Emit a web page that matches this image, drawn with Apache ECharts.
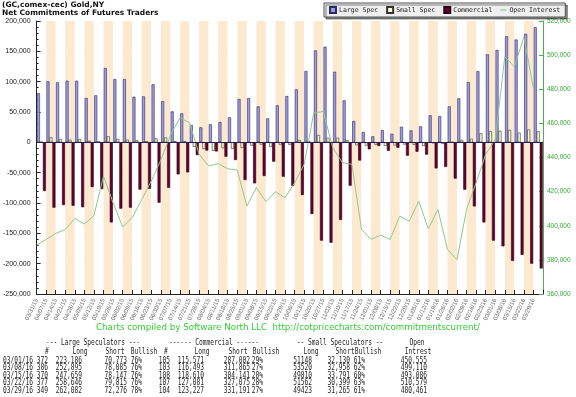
<!DOCTYPE html>
<html>
<head>
<meta charset="utf-8">
<script src="https://cdn.jsdelivr.net/npm/echarts@6/dist/echarts.min.js"></script>
<style>
  html,body{margin:0;padding:0;background:#fff;}
  #main{width:576px;height:397px;}
</style>
</head>
<body>
<div id="main"></div>
<script>
// weekly report dates
var dates = ['03/31/15','04/07/15','04/14/15','04/21/15','04/28/15','05/05/15','05/12/15','05/19/15','05/26/15',
  '06/02/15','06/09/15','06/16/15','06/23/15','06/30/15','07/07/15','07/14/15','07/21/15','07/28/15',
  '08/04/15','08/11/15','08/18/15','08/25/15','09/01/15','09/08/15','09/15/15','09/22/15','09/29/15',
  '10/06/15','10/13/15','10/20/15','10/27/15','11/03/15','11/10/15','11/17/15','11/24/15','12/01/15',
  '12/08/15','12/15/15','12/22/15','12/29/15','01/05/16','01/12/16','01/19/16','01/26/16','02/02/16',
  '02/09/16','02/16/16','02/23/16','03/01/16','03/08/16','03/15/16','03/22/16','03/29/16'];

// net positions
var largeSpec = [80800,100500,98900,101600,101600,73000,77500,122500,104300,104300,75200,75700,95600,68000,
  51000,47800,28500,24700,29700,33500,41200,71400,73000,59300,39500,61000,76300,87300,117500,151600,157600,
  116400,69200,35100,17000,9900,20300,14200,25700,19700,26300,44500,43300,59300,72500,99400,117500,145000,
  152413,174810,169512,178831,189806];
var smallSpec = [1000,8200,5500,4400,5500,2700,1500,9900,5500,4400,3300,2000,6600,8000,1800,1700,-7500,
  -11000,-14000,-9800,-11000,-9300,-5400,-3800,-7700,-4400,-4300,3800,2200,12000,7600,7600,3800,-5000,-5500,
  -4000,-6000,-5200,-3700,-4200,-6000,-1500,-2700,500,4000,5800,14800,18600,19018,20562,16019,21163,18158];
var commercial = [-80300,-107700,-103400,-104500,-107000,-73700,-77000,-132000,-109400,-107700,-78000,-76500,
  -99500,-75000,-52800,-49500,-21000,-13500,-15000,-23700,-29200,-62100,-67600,-55500,-31800,-56600,-72000,
  -86900,-118200,-162000,-165400,-127900,-71500,-30000,-11500,-6000,-14000,-9000,-22000,-15500,-20300,-43000,
  -40600,-59800,-78000,-105600,-132000,-162000,-171431,-195372,-185531,-199994,-207964];
var openInterest = [388600,392000,395500,397800,404300,401000,406000,429000,413500,399400,404700,415400,
  426200,438500,453000,463300,460400,442000,435000,436400,433400,432600,411500,422300,414100,420000,416400,
  425200,436000,466000,467000,445700,437000,436000,397800,392000,394500,392000,405600,402700,414400,398200,
  409600,386100,380200,409600,425200,441800,450555,499110,493086,510579,480461];

// table under the chart
var tableDates = ['03/01/16','03/08/16','03/15/16','03/22/16','03/29/16'];
var lsCount = ['372','386','370','377','349'];
var lsLong = ['223,186','252,895','247,659','258,646','262,082'];
var lsShort = ['70,773','78,085','78,147','79,815','72,276'];
var lsBull = ['76%','76%','76%','76%','78%'];
var cmCount = ['105','103','108','107','104'];
var cmLong = ['115,571','116,493','118,610','127,081','123,227'];
var cmShort = ['287,002','311,865','304,141','327,075','331,191'];
var cmBull = ['29%','27%','28%','28%','27%'];
var ssLong = ['51148','53520','49810','51562','49423'];
var ssShort = ['32,130','32,958','33,791','30,399','31,265'];
var ssBull = ['61%','62%','60%','63%','61%'];
var oiTable = ['450,555','499,110','493,086','510,579','480,461'];

var mono = '8px "DejaVu Sans Mono"';
var graphics = [];
function txt(s, x, y, font, fill, align, sx){
  graphics.push({type:'text', x:x, y:y, scaleX:sx||1, silent:true,
    style:{text:s, font:font, fill:fill, align:align||'center', verticalAlign:'middle'}});
}
txt('(GC,comex-cec) Gold,NY', 2, 5, 'bold 7.5px "DejaVu Sans"', '#111', 'left');
txt('Net Commitments of Futures Traders', 2, 13, 'bold 7.5px "DejaVu Sans"', '#111', 'left');
txt('Charts compiled by Software North LLC  http://cotpricecharts.com/commitmentscurrent/', 288, 328,
  '8.7px "DejaVu Sans"', '#33cc33');

// table: headers centred, numbers right aligned, squeezed to a narrow terminal look
var sq = 0.78;
var head1 = [['--- Large Speculators ---',93],['------ Commercial ------',214],['-- Small Speculators --',340],['Open',417]];
var head2 = [['#',47],['Long',80],['Short',115],['Bullish',144],['#',166],['Long',202],['Short',238],
  ['Bullish',266],['Long',311],['Short',345],['Bullish',368],['Intrest',418]];
head1.forEach(function(h){ txt(h[0], h[1], 343, mono, '#222', 'center', sq); });
head2.forEach(function(h){ txt(h[0], h[1], 352, mono, '#222', 'center', sq); });
var cols = [[lsCount,48],[lsLong,82],[lsShort,127],[lsBull,142],[cmCount,170],[cmLong,204],
  [cmShort,250],[cmBull,263],[ssLong,312],[ssShort,350],[ssBull,365],[oiTable,427]];
for (var r = 0; r < tableDates.length; r++) {
  var y = 360.7 + r*7.5;
  txt(tableDates[r], 3, y, mono, '#222', 'left', sq);
  cols.forEach(function(c){ txt(c[0][r], c[1], y, mono, '#222', 'right', sq); });
}

var chart = echarts.init(document.getElementById('main'), null, {renderer:'canvas'});
chart.setOption({
  backgroundColor:'#fff',
  animation:false,
  legend:{
    left:324, top:3,
    padding:[3,5,3,5], itemGap:8, itemWidth:6, itemHeight:6,
    backgroundColor:'#efefef', borderColor:'#555', borderWidth:1,
    shadowColor:'rgba(0,0,0,0.45)', shadowOffsetX:2, shadowOffsetY:2, shadowBlur:0,
    textStyle:{fontSize:6.5, fontFamily:'"DejaVu Sans Mono"', color:'#222', padding:[0,0,0,-2]},
    data:[
      {name:'Large Spec', icon:'rect'},
      {name:'Small Spec', icon:'rect'},
      {name:'Commercial', icon:'rect'},
      {name:'Open Interest', icon:'path://M0,4L10,4L10,6L0,6Z'}
    ]
  },
  graphic:graphics,
  grid:{left:33, right:33, top:21, bottom:103},
  xAxis:[
    {type:'category', data:dates, boundaryGap:true, show:false, position:'top'},
    {type:'category', data:dates.concat(['']), boundaryGap:false, position:'bottom',
      axisLine:{onZero:false, lineStyle:{color:'#222', width:1}},
      axisTick:{inside:true, length:4, interval:0, lineStyle:{color:'#222'}},
      axisLabel:{interval:0, rotate:65, fontSize:6, color:'#666', margin:5, fontFamily:'"Liberation Sans"'},
      splitLine:{show:false},
      splitArea:{show:true, interval:0, areaStyle:{color:['#ffffff','#fde9d0']}}
    }
  ],
  yAxis:[
    {type:'value', min:-250000, max:200000, interval:50000, position:'left',
      axisLine:{show:true, lineStyle:{color:'#222'}},
      axisTick:{show:true, inside:true, length:4, lineStyle:{color:'#222'}},
      minorTick:{show:true, splitNumber:5, length:2, lineStyle:{color:'#222'}},
      axisLabel:{fontSize:7, color:'#222', margin:6, fontFamily:'"Liberation Sans"'},
      splitLine:{show:true, lineStyle:{color:'#e2e2e2', width:1}}
    },
    {type:'value', min:360000, max:520000, interval:20000, position:'right',
      axisLine:{show:true, lineStyle:{color:'#55aa55'}},
      axisTick:{show:true, inside:true, length:4, lineStyle:{color:'#55aa55'}},
      axisLabel:{fontSize:6.5, color:'#33aa33', margin:4, fontFamily:'"Liberation Sans"'},
      splitLine:{show:false}
    }
  ],
  series:[
    {name:'Large Spec', type:'bar', xAxisIndex:0, yAxisIndex:0, data:largeSpec,
      barGap:'0%', barCategoryGap:'6%',
      itemStyle:{color:'#9e9ee0', borderColor:'#2a2a66', borderWidth:0.6}},
    {name:'Small Spec', type:'bar', xAxisIndex:0, yAxisIndex:0, data:smallSpec,
      barGap:'0%', barCategoryGap:'6%',
      itemStyle:{color:'#ffffd0', borderColor:'#333', borderWidth:0.6}},
    {name:'Commercial', type:'bar', xAxisIndex:0, yAxisIndex:0, data:commercial,
      barGap:'0%', barCategoryGap:'6%',
      itemStyle:{color:'#660033', borderColor:'#2a0015', borderWidth:0.6},
      markLine:{silent:true, symbol:'none', label:{show:false},
        lineStyle:{color:'#22224a', width:1, type:'solid'}, data:[{yAxis:0}]}},
    {name:'Open Interest', type:'line', xAxisIndex:1, yAxisIndex:1, data:openInterest,
      symbol:'none', smooth:false, lineStyle:{color:'#8fc88f', width:1}, itemStyle:{color:'#8fc88f'}}
  ]
});
</script>
</body>
</html>
